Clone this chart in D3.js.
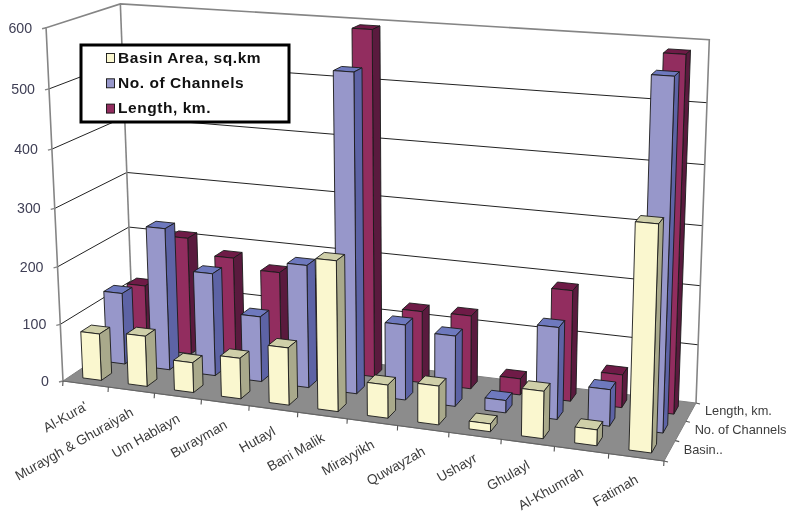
<!DOCTYPE html>
<html>
<head>
<meta charset="utf-8">
<script src="https://cdn.jsdelivr.net/npm/d3@7"></script>
<style>
  html, body { margin: 0; padding: 0; background: #fff; }
  svg { display: block; filter: blur(0.45px); }
  text { font-family: "Liberation Sans", Arial, sans-serif; }
</style>
</head>
<body>
<svg width="788" height="513"></svg>
<script>
// данные
const categories = ["Al-Kura'", "Muraygh & Ghuraiyah", "Um Hablayn", "Burayman", "Hutayl", "Bani Malik",
                    "Mirayyikh", "Quwayzah", "Ushayr", "Ghulayl", "Al-Khumrah", "Fatimah"];
const seriesNames = ["Basin Area, sq.km", "No. of Channels", "Length, km."];
const seriesLabels = ["Basin..", "No. of Channels", "Length, km."];
const basinArea = [82, 88, 52, 70, 98, 253, 56, 65, 13, 78, 26, 362];
const channels = [127, 250, 180, 114, 212, 540, 129, 120, 21, 154, 61, 568];
const lengthKm = [115, 210, 183, 166, 150, 594, 125, 127, 28, 189, 56, 586];
const seriesValues = [basinArea, channels, lengthKm];
const valueTicks = [0, 100, 200, 300, 400, 500, 600];

// цвета: лицевая грань, боковая, верхняя
const colors = [
    {front: "#FAF7CF", side: "#A9A98B", top: "#CFCFA9"},
    {front: "#9797CA", side: "#5D63A5", top: "#6E79BE"},
    {front: "#922D5F", side: "#5A1A3E", top: "#6F1B47"}
];

// углы пола на экране и столбец вертикали в матрице проекции
const floorQuad = [[63, 381], [664, 461], [696, 403], [133, 334]];
const [c1, c2, c3] = [-19, -354.5, -0.045];

const [[x0, y0], [x1, y1], [x2, y2], [x3, y3]] = floorQuad;
const dx1 = x1 - x2, dx2 = x3 - x2, sx = x0 - x1 + x2 - x3;
const dy1 = y1 - y2, dy2 = y3 - y2, sy = y0 - y1 + y2 - y3;
const den = dx1 * dy2 - dx2 * dy1;
const g = (sx * dy2 - dx2 * sy) / den;
const h = (dx1 * sy - sx * dy1) / den;
const a = x1 - x0 + g * x1, b = x3 - x0 + h * x3;
const d = y1 - y0 + g * y1, e = y3 - y0 + h * y3;

const scX = d3.scaleBand().domain(categories).range([0, 1]).paddingInner(0.59).paddingOuter(0.285);
const scZ = d3.scaleBand().domain(seriesNames).range([0, 1]).paddingInner(0.57).paddingOuter(0.285);
const scY = d3.scaleLinear().domain([0, 600]).range([0, 1]);
const stepX = d3.scaleBand().domain(categories).range([0, 1]);
const stepZ = d3.scaleBand().domain(seriesLabels).range([0, 1]);

// точка в 3D -> экран
function project(u, v, value) {
    const t = scY(value);
    const w = g * u + h * v + 1 + c3 * t;
    return [(a * u + b * v + x0 + c1 * t) / w, (d * u + e * v + y0 + c2 * t) / w];
}

const svg = d3.select("svg");
const line = d3.line();
const axisColor = "#858585";

// пол
svg.append("path")
    .attr("d", line([project(0, 0, 0), project(1, 0, 0), project(1, 1, 0), project(0, 1, 0)]) + "Z")
    .attr("fill", "#8C8C8C")
    .attr("stroke", "#808080");

// линии сетки на левой и задней стенках
valueTicks.filter(v => v > 0 && v < 600).forEach(v => {
    svg.append("path")
        .attr("d", line([project(0, 0, v), project(0, 1, v), project(1, 1, v)]))
        .attr("fill", "none")
        .attr("stroke", "#222")
        .attr("stroke-width", 1);
});

// контур стенок
svg.append("path")
    .attr("d", line([project(0, 0, 0), project(0, 0, 600), project(0, 1, 600), project(1, 1, 600), project(1, 1, 0)]))
    .attr("fill", "none").attr("stroke", axisColor).attr("stroke-width", 1.6);
svg.append("path")
    .attr("d", line([project(0, 1, 0), project(0, 1, 600)]))
    .attr("fill", "none").attr("stroke", axisColor).attr("stroke-width", 1.6);

// столбцы: сначала дальний ряд, в ряду слева направо
function drawBar(i, s) {
    const name = categories[i], value = seriesValues[s][i];
    const u0 = scX(name), u1 = u0 + scX.bandwidth();
    const v0 = scZ(seriesNames[s]), v1 = v0 + scZ.bandwidth();
    const c = colors[s];
    const faces = [
        {pts: [[u0, v0, value], [u1, v0, value], [u1, v1, value], [u0, v1, value]], fill: c.top},
        {pts: [[u1, v0, 0], [u1, v1, 0], [u1, v1, value], [u1, v0, value]], fill: c.side},
        {pts: [[u0, v0, 0], [u1, v0, 0], [u1, v0, value], [u0, v0, value]], fill: c.front}
    ];
    svg.append("g").selectAll("path")
        .data(faces)
        .enter()
        .append("path")
        .attr("d", f => line(f.pts.map(p => project(p[0], p[1], p[2]))) + "Z")
        .style("fill", f => f.fill)
        .style("stroke", "#1a1a1a")
        .style("stroke-width", 0.9)
        .style("stroke-linejoin", "round");
}

d3.range(seriesNames.length).reverse().forEach(s => {
    categories.forEach((c, i) => drawBar(i, s));
});

// ось значений
valueTicks.forEach(v => {
    const p = project(0, 0, v);
    svg.append("line")
        .attr("x1", p[0]).attr("y1", p[1])
        .attr("x2", p[0] - 4).attr("y2", p[1] + 1)
        .attr("stroke", axisColor).attr("stroke-width", 1.4);
    svg.append("text")
        .attr("x", p[0] - 14)
        .attr("y", p[1] + 5)
        .attr("text-anchor", "end")
        .attr("font-size", 14.2)
        .attr("fill", "#3f3f55")
        .text(v);
});

// ось категорий
svg.append("path")
    .attr("d", line([project(0, 0, 0), project(1, 0, 0)]))
    .attr("stroke", "#666").attr("stroke-width", 1.2).attr("fill", "none");
d3.range(categories.length + 1).forEach(i => {
    const p = project(i / categories.length, 0, 0);
    svg.append("line")
        .attr("x1", p[0]).attr("y1", p[1])
        .attr("x2", p[0] - 0.3).attr("y2", p[1] + 5)
        .attr("stroke", "#555").attr("stroke-width", 1.1);
});
categories.forEach(name => {
    const p = project(stepX(name) + stepX.bandwidth() / 2, 0, 0);
    svg.append("text")
        .attr("transform", `translate(${p[0] + 3}, ${p[1] + 25}) rotate(-29.5)`)
        .attr("text-anchor", "end")
        .attr("font-size", 13.7)
        .attr("fill", "#3c3c3c")
        .text(name);
});

// ось рядов
d3.range(seriesLabels.length + 1).forEach(i => {
    const p = project(1, i / seriesLabels.length, 0);
    svg.append("line")
        .attr("x1", p[0]).attr("y1", p[1])
        .attr("x2", p[0] + 4).attr("y2", p[1] + 1)
        .attr("stroke", "#555").attr("stroke-width", 1.1);
});
seriesLabels.forEach(name => {
    const p = project(1, stepZ(name) + stepZ.bandwidth() / 2, 0);
    svg.append("text")
        .attr("x", p[0] + 14)
        .attr("y", p[1] + 3)
        .attr("font-size", 12.8)
        .attr("fill", "#3c3c3c")
        .text(name);
});

// легенда
const legend = svg.append("g");
legend.append("rect")
    .attr("x", 81).attr("y", 45)
    .attr("width", 208).attr("height", 77)
    .attr("fill", "#fff")
    .attr("stroke", "#000")
    .attr("stroke-width", 3);
seriesNames.forEach((name, i) => {
    legend.append("rect")
        .attr("x", 106.5).attr("y", 53.5 + i * 25.3)
        .attr("width", 8).attr("height", 9)
        .attr("fill", colors[i].front)
        .attr("stroke", "#111")
        .attr("stroke-width", 0.9);
    legend.append("text")
        .attr("x", 118).attr("y", 62.5 + i * 25.3)
        .attr("font-size", 15.5)
        .attr("letter-spacing", 0.55)
        .attr("font-weight", "bold")
        .attr("fill", "#111")
        .text(name);
});
</script>
</body>
</html>
